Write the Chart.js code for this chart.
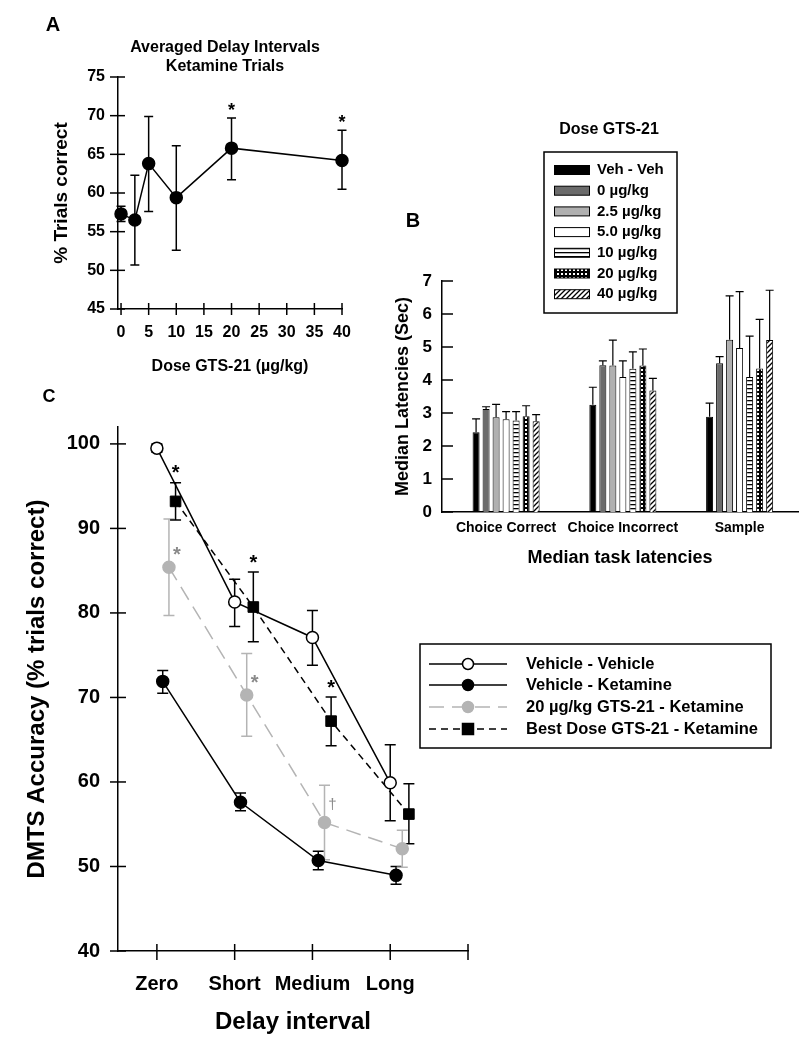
<!DOCTYPE html>
<html>
<head>
<meta charset="utf-8">
<script src="https://cdn.jsdelivr.net/npm/chart.js@4.4.0/dist/chart.umd.min.js"></script>
<style>
html, body { margin: 0; padding: 0; background: #fff; }
#wrap { position: relative; width: 808px; height: 1050px; }
canvas { position: absolute; left: 0; top: 0; }
</style>
</head>
<body>
<div id="wrap">
  <canvas id="chartA" width="808" height="1050"></canvas>
  <canvas id="chartB" width="808" height="1050"></canvas>
  <canvas id="chartC" width="808" height="1050"></canvas>
</div>
<script>
// ---- panel A: averaged delay intervals, ketamine trials
const doseA = [0, 2.5, 5, 10, 20, 40];
const accA = [57.3, 56.5, 63.8, 59.4, 65.8, 64.2];
const accALow = [56.3, 50.7, 57.6, 52.6, 61.7, 60.5];
const accAHigh = [58.3, 62.3, 69.9, 66.1, 69.7, 68.1];
const starsA = ['', '', '', '', '*', '*'];
const doseTicksA = [0, 5, 10, 15, 20, 25, 30, 35, 40];

// ---- panel B: median task latencies (sec)
const latencyCats = ['Choice Correct', 'Choice Incorrect', 'Sample'];
const doseGroups = ['Veh - Veh', '0 µg/kg', '2.5 µg/kg', '5.0 µg/kg', '10 µg/kg', '20 µg/kg', '40 µg/kg'];
const latVeh = [2.42, 3.25, 2.89];
const latVehErr = [2.82, 3.78, 3.30];
const lat0 = [3.12, 4.45, 4.51];
const lat0Err = [3.19, 4.58, 4.71];
const lat25 = [2.87, 4.44, 5.22];
const lat25Err = [3.26, 5.21, 6.55];
const lat50 = [2.81, 4.09, 4.97];
const lat50Err = [3.04, 4.58, 6.68];
const lat10 = [2.77, 4.34, 4.09];
const lat10Err = [3.04, 4.85, 5.33];
const lat20 = [2.90, 4.44, 4.35];
const lat20Err = [3.22, 4.94, 5.84];
const lat40 = [2.75, 3.68, 5.21];
const lat40Err = [2.95, 4.05, 6.72];

// ---- panel C: DMTS accuracy by delay interval
const delayLabels = ['Zero', 'Short', 'Medium', 'Long'];
const vehVeh = [99.5, 81.3, 77.1, 59.9];
const vehVehLow = [99.0, 78.4, 73.8, 55.4];
const vehVehHigh = [100.0, 84.0, 80.3, 64.4];
const vehKet = [71.9, 57.6, 50.7, 48.95];
const vehKetLow = [70.5, 56.6, 49.6, 47.9];
const vehKetHigh = [73.2, 58.7, 51.8, 50.0];
const gts20Ket = [85.4, 70.3, 55.2, 52.1];
const gts20KetLow = [79.7, 65.4, 50.8, 49.9];
const gts20KetHigh = [91.1, 75.2, 59.6, 54.3];
const bestKet = [93.2, 80.7, 67.2, 56.2];
const bestKetLow = [91.0, 76.6, 64.3, 52.7];
const bestKetHigh = [95.4, 84.85, 70.05, 59.8];
const bestMarks = ['*', '*', '*', ''];
const gts20Marks = ['*', '*', '†', ''];

const FONT = '"Liberation Sans", Arial, sans-serif';
Chart.defaults.font.family = FONT;
Chart.defaults.font.weight = 'bold';
Chart.defaults.color = '#000';

function fixWidth(w) {
    return s => { s.width = w; s.paddingLeft = s.paddingRight = s.paddingTop = s.paddingBottom = 0; };
}
function fixHeight(h) {
    return s => { s.height = h; s.paddingLeft = s.paddingRight = s.paddingTop = s.paddingBottom = 0; };
}

// error bars, drawn under the marks
const errorBars = {
    id: 'errorBars',
    beforeDatasetsDraw(chart) {
        const ctx = chart.ctx, ys = chart.scales.y;
        chart.data.datasets.forEach((ds, di) => {
            if (!ds.errHigh) return;
            const meta = chart.getDatasetMeta(di);
            ctx.save();
            ctx.strokeStyle = ds.errColor || '#000';
            ctx.lineWidth = ds.errWidth || 1.5;
            ctx.setLineDash([]);
            meta.data.forEach((el, i) => {
                const x = el.x, cap = ds.capHalf || 5;
                const top = ys.getPixelForValue(ds.errHigh[i]);
                const bot = ds.errLow ? ys.getPixelForValue(ds.errLow[i]) : el.y;
                ctx.beginPath();
                ctx.moveTo(x, bot); ctx.lineTo(x, top);
                ctx.moveTo(x - cap, top); ctx.lineTo(x + cap, top);
                if (ds.errLow) { ctx.moveTo(x - cap, bot); ctx.lineTo(x + cap, bot); }
                ctx.stroke();
            });
            ctx.restore();
        });
    }
};

// significance marks (* and †)
const sigMarks = {
    id: 'sigMarks',
    afterDatasetsDraw(chart) {
        const ctx = chart.ctx, ys = chart.scales.y;
        chart.data.datasets.forEach((ds, di) => {
            if (!ds.marks) return;
            const meta = chart.getDatasetMeta(di);
            ctx.save();
            ctx.fillStyle = ds.markColor || '#000';
            ctx.textAlign = 'center';
            ctx.textBaseline = 'alphabetic';
            meta.data.forEach((el, i) => {
                const m = ds.marks[i];
                if (!m) return;
                const ref = ds.markFrom === 'point' ? el.y : ys.getPixelForValue(ds.errHigh[i]);
                const cx = el.x + (ds.markDx || 0), cy = ref - ds.markDy;
                if (m === '†') {
                    ctx.font = '15px ' + FONT;
                    ctx.fillText(m, cx, cy + 4);
                } else {
                    const sz = ds.markSize || 20;
                    ctx.font = 'bold ' + sz + 'px ' + FONT;
                    ctx.fillText(m, cx, cy + 0.58 * sz);
                }
            });
            ctx.restore();
        });
    }
};

// tick marks that cross the axis line
function crossTicks(spec) {
    return {
        id: 'crossTicks',
        beforeDatasetsDraw(chart) {
            const ctx = chart.ctx, a = chart.chartArea;
            ctx.save();
            ctx.strokeStyle = '#000';
            ctx.lineWidth = 1.5;
            if (spec.x) {
                chart.scales.x.ticks.forEach(t => {
                    const px = chart.scales.x.getPixelForValue(t.value);
                    ctx.beginPath();
                    ctx.moveTo(px, a.bottom - spec.x[0]);
                    ctx.lineTo(px, a.bottom + spec.x[1]);
                    ctx.stroke();
                });
            }
            if (spec.y) {
                chart.scales.y.ticks.forEach(t => {
                    const py = chart.scales.y.getPixelForValue(t.value);
                    ctx.beginPath();
                    ctx.moveTo(a.left - spec.y[1], py);
                    ctx.lineTo(a.left + spec.y[0], py);
                    ctx.stroke();
                });
            }
            ctx.restore();
        }
    };
}

function freeText(items) {
    return {
        id: 'freeText',
        afterDraw(chart) {
            const ctx = chart.ctx;
            ctx.save();
            ctx.fillStyle = '#000';
            ctx.textBaseline = 'middle';
            items.forEach(it => {
                ctx.font = 'bold ' + it.size + 'px ' + FONT;
                ctx.textAlign = it.align || 'center';
                ctx.fillText(it.text, it.x, it.y);
            });
            ctx.restore();
        }
    };
}

// ================= Panel A =================
new Chart(document.getElementById('chartA'), {
    type: 'line',
    data: {
        datasets: [{
            data: doseA.map((d, i) => ({ x: d, y: accA[i] })),
            borderColor: '#000',
            borderWidth: 1.5,
            pointRadius: 6,
            pointBackgroundColor: '#000',
            pointBorderColor: '#000',
            clip: false,
            errLow: accALow,
            errHigh: accAHigh,
            capHalf: 4.5,
            marks: starsA,
            markDy: 12.5,
            markSize: 18
        }]
    },
    options: {
        responsive: false,
        animation: false,
        devicePixelRatio: 1,
        layout: { padding: { left: 50.6, top: 77, right: 466, bottom: 1050 - 309 - 67.6 } },
        plugins: { legend: { display: false }, tooltip: { enabled: false } },
        scales: {
            x: {
                type: 'linear', min: -0.55, max: 40,
                afterBuildTicks: s => { s.ticks = doseTicksA.map(v => ({ value: v })); },
                afterFit: fixHeight(67.6),
                grid: { display: false, drawTicks: false },
                border: { display: true, color: '#000', width: 1.5 },
                ticks: { padding: 14.4, autoSkip: false, maxRotation: 0, font: { size: 16, weight: 'bold' } },
                title: { display: true, text: 'Dose GTS-21 (µg/kg)', padding: 0, font: { size: 16, weight: 'bold' } }
            },
            y: {
                min: 45, max: 75,
                ticks: { stepSize: 5, padding: 13, font: { size: 16, weight: 'bold' } },
                afterFit: fixWidth(67.4),
                grid: { display: false, drawTicks: false },
                border: { display: true, color: '#000', width: 1.5 },
                title: { display: true, text: '% Trials correct', padding: 0, font: { size: 19, weight: 'bold' } }
            }
        }
    },
    plugins: [errorBars, sigMarks, crossTicks({ x: [6, 6], y: [7, 8] }), freeText([
        { text: 'A', x: 53, y: 25, size: 20 },
        { text: 'Averaged Delay Intervals', x: 225, y: 48, size: 16 },
        { text: 'Ketamine Trials', x: 225, y: 67, size: 16 }
    ])]
});

// ================= Panel B =================
function makePattern(kind) {
    const c = document.createElement('canvas');
    const g = c.getContext('2d');
    if (kind === 'hlines') {
        c.width = 4; c.height = 4;
        g.fillStyle = '#fff'; g.fillRect(0, 0, 4, 4);
        g.fillStyle = '#000'; g.fillRect(0, 0, 4, 1.3);
    } else if (kind === 'check') {
        c.width = 4; c.height = 4;
        g.fillStyle = '#000'; g.fillRect(0, 0, 4, 4);
        g.fillStyle = '#fff'; g.fillRect(1, 1, 2, 2);
    } else {
        c.width = 5; c.height = 5;
        g.fillStyle = '#fff'; g.fillRect(0, 0, 5, 5);
        g.strokeStyle = '#000'; g.lineWidth = 1.3;
        g.beginPath();
        g.moveTo(-1, 6); g.lineTo(6, -1);
        g.moveTo(-1, 1); g.lineTo(1, -1);
        g.moveTo(4, 6); g.lineTo(6, 4);
        g.stroke();
    }
    return g.createPattern(c, 'repeat');
}

const latMeans = [latVeh, lat0, lat25, lat50, lat10, lat20, lat40];
const latErrs = [latVehErr, lat0Err, lat25Err, lat50Err, lat10Err, lat20Err, lat40Err];
const barFills = ['#000', '#6b6b6b', '#b0b0b0', '#fff', makePattern('hlines'), makePattern('check'), makePattern('diag')];

const legendB = {
    id: 'legendB',
    afterDraw(chart) {
        const ctx = chart.ctx;
        ctx.save();
        ctx.font = 'bold 16px ' + FONT;
        ctx.fillStyle = '#000';
        ctx.textAlign = 'center';
        ctx.textBaseline = 'middle';
        ctx.fillText('Dose GTS-21', 609, 130);
        ctx.lineWidth = 1.5;
        ctx.strokeStyle = '#000';
        ctx.strokeRect(544, 152, 133, 161);
        ctx.font = 'bold 15px ' + FONT;
        ctx.textAlign = 'left';
        chart.data.datasets.forEach((ds, i) => {
            const y = 170 + i * 20.7;
            ctx.fillStyle = ds.backgroundColor;
            ctx.fillRect(554, y - 4.5, 35, 9);
            ctx.lineWidth = 1;
            ctx.strokeRect(554.5, y - 4.5, 35, 9);
            ctx.fillStyle = '#000';
            ctx.fillText(ds.label, 597, y);
        });
        ctx.restore();
    }
};

new Chart(document.getElementById('chartB'), {
    type: 'bar',
    data: {
        datasets: doseGroups.map((name, i) => ({
            label: name,
            data: latMeans[i].map((v, j) => ({ x: j, y: v })),
            backgroundColor: barFills[i],
            borderColor: '#000',
            borderWidth: 1,
            barPercentage: 0.7,
            categoryPercentage: 0.6,
            errHigh: latErrs[i],
            errWidth: 1.2,
            capHalf: 4
        }))
    },
    options: {
        responsive: false,
        animation: false,
        devicePixelRatio: 1,
        layout: { padding: { left: 392.2, top: 281, right: 10, bottom: 1050 - 512 - 56.8 } },
        plugins: { legend: { display: false }, tooltip: { enabled: false } },
        scales: {
            x: {
                type: 'linear', min: -0.549, max: 2.5, offset: false,
                afterBuildTicks: s => { s.ticks = latencyCats.map((c, i) => ({ value: i })); },
                afterFit: fixHeight(56.8),
                grid: { display: false, drawTicks: false },
                border: { display: true, color: '#000', width: 1.5 },
                ticks: { padding: 7.6, autoSkip: false, maxRotation: 0, font: { size: 14, weight: 'bold' },
                    callback: v => latencyCats[v] },
                title: { display: true, text: 'Median task latencies', padding: 0, font: { size: 18, weight: 'bold' } }
            },
            y: {
                min: 0, max: 7,
                ticks: { stepSize: 1, padding: 10, font: { size: 17, weight: 'bold' } },
                afterFit: fixWidth(49.8),
                grid: { display: false, drawTicks: false },
                border: { display: true, color: '#000', width: 1.5 },
                title: { display: true, text: 'Median Latencies (Sec)', padding: 0, font: { size: 18, weight: 'bold' } }
            }
        }
    },
    plugins: [errorBars, crossTicks({ y: [11, 0] }), legendB, freeText([
        { text: 'B', x: 413, y: 221, size: 20 }
    ])]
});

// ================= Panel C =================
const legendC = {
    id: 'legendC',
    afterDraw(chart) {
        const ctx = chart.ctx;
        ctx.save();
        ctx.strokeStyle = '#000';
        ctx.lineWidth = 1.5;
        ctx.strokeRect(420, 644, 351, 104);
        const rows = [664, 685, 707, 729];
        chart.data.datasets.forEach((ds, i) => {
            const y = rows[i];
            ctx.strokeStyle = ds.borderColor;
            ctx.lineWidth = ds.borderWidth;
            ctx.setLineDash(ds.borderDash || []);
            ctx.beginPath();
            ctx.moveTo(429, y); ctx.lineTo(507, y);
            ctx.stroke();
            ctx.setLineDash([]);
            ctx.fillStyle = ds.pointBackgroundColor;
            ctx.strokeStyle = ds.pointBorderColor;
            ctx.lineWidth = 1.5;
            ctx.beginPath();
            if (ds.pointStyle === 'rect') {
                ctx.rect(462.5, y - 5.5, 11, 11);
            } else {
                ctx.arc(468, y, 5.5, 0, Math.PI * 2);
            }
            ctx.fill();
            ctx.stroke();
            ctx.fillStyle = '#000';
            ctx.font = 'bold 16.5px ' + FONT;
            ctx.textAlign = 'left';
            ctx.textBaseline = 'middle';
            ctx.fillText(ds.label, 526, y);
        });
        ctx.restore();
    }
};

function delaySeries(vals, jitter) {
    return vals.map((v, i) => ({ x: i + 1 + jitter, y: v }));
}

new Chart(document.getElementById('chartC'), {
    type: 'line',
    data: {
        datasets: [{
            label: 'Vehicle - Vehicle',
            data: delaySeries(vehVeh, 0),
            borderColor: '#000', borderWidth: 1.5,
            pointStyle: 'circle', pointRadius: 6, pointBorderWidth: 1.5,
            pointBackgroundColor: '#fff', pointBorderColor: '#000',
            clip: false,
            errLow: vehVehLow, errHigh: vehVehHigh, capHalf: 5.5
        }, {
            label: 'Vehicle - Ketamine',
            data: delaySeries(vehKet, 0.075),
            borderColor: '#000', borderWidth: 1.5,
            pointStyle: 'circle', pointRadius: 6, pointBorderWidth: 1.5,
            pointBackgroundColor: '#000', pointBorderColor: '#000',
            clip: false,
            errLow: vehKetLow, errHigh: vehKetHigh, capHalf: 5.5
        }, {
            label: '20 µg/kg GTS-21 - Ketamine',
            data: delaySeries(gts20Ket, 0.155),
            borderColor: '#b4b4b4', borderWidth: 1.5, borderDash: [15, 8],
            pointStyle: 'circle', pointRadius: 6, pointBorderWidth: 1.5,
            pointBackgroundColor: '#b4b4b4', pointBorderColor: '#b4b4b4',
            clip: false,
            errLow: gts20KetLow, errHigh: gts20KetHigh, errColor: '#b4b4b4', capHalf: 5.5,
            marks: gts20Marks, markFrom: 'point', markDx: 8, markDy: 18, markColor: '#8a8a8a'
        }, {
            label: 'Best Dose GTS-21 - Ketamine',
            data: delaySeries(bestKet, 0.24),
            borderColor: '#000', borderWidth: 1.5, borderDash: [7, 5],
            pointStyle: 'rect', pointRadius: 7.5, pointBorderWidth: 1,
            pointBackgroundColor: '#000', pointBorderColor: '#000',
            clip: false,
            errLow: bestKetLow, errHigh: bestKetHigh, capHalf: 5.5,
            marks: bestMarks, markDy: 15
        }]
    },
    options: {
        responsive: false,
        animation: false,
        devicePixelRatio: 1,
        layout: { padding: { left: 22.6, top: 427, right: 340, bottom: 1050 - 951 - 86.1 } },
        plugins: { legend: { display: false }, tooltip: { enabled: false } },
        scales: {
            x: {
                type: 'linear', min: 0.5, max: 5,
                afterBuildTicks: s => { s.ticks = [1, 2, 3, 4, 5].map(v => ({ value: v })); },
                afterFit: fixHeight(86.1),
                grid: { display: false, drawTicks: false },
                border: { display: true, color: '#000', width: 1.5 },
                ticks: { padding: 21, autoSkip: false, maxRotation: 0, font: { size: 20, weight: 'bold' },
                    callback: v => delayLabels[v - 1] || '' },
                title: { display: true, text: 'Delay interval', padding: 0, font: { size: 24, weight: 'bold' } }
            },
            y: {
                min: 40, max: 102,
                afterBuildTicks: s => { s.ticks = [40, 50, 60, 70, 80, 90, 100].map(v => ({ value: v })); },
                ticks: { padding: 18, font: { size: 20, weight: 'bold' } },
                afterFit: fixWidth(95.4),
                grid: { display: false, drawTicks: false },
                border: { display: true, color: '#000', width: 1.5 },
                title: { display: true, text: 'DMTS Accuracy (% trials correct)', padding: 0, font: { size: 24, weight: 'bold' } }
            }
        }
    },
    plugins: [errorBars, sigMarks, crossTicks({ x: [7, 9], y: [8, 8] }), legendC, freeText([
        { text: 'C', x: 49, y: 397, size: 18 }
    ])]
});
</script>
</body>
</html>
